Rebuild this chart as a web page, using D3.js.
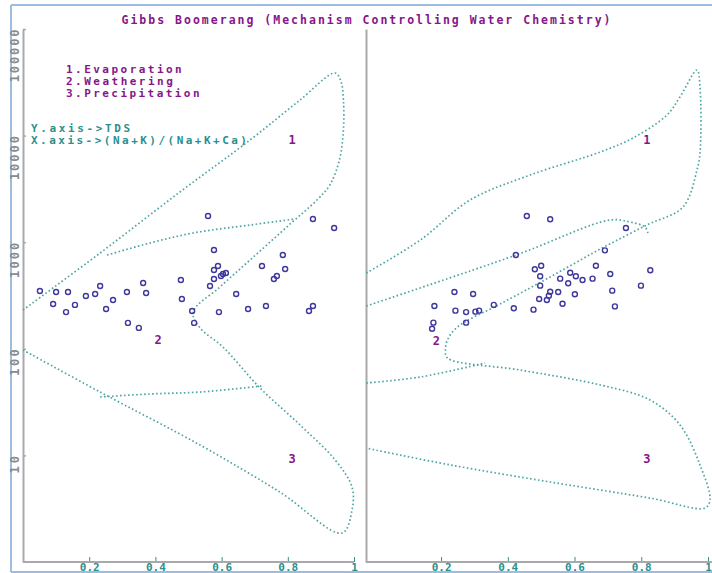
<!DOCTYPE html>
<html><head><meta charset="utf-8">
<script src="https://cdn.jsdelivr.net/npm/d3@7"></script>
<style>body{margin:0;background:#fff}</style>
</head><body>
<svg id="c" width="712" height="573"></svg>
<script>
// ---------- data ----------
const titleText = "Gibbs Boomerang (Mechanism Controlling Water Chemistry)";
const legendItems = ["1.Evaporation", "2.Weathering", "3.Precipitation"];
const axisNotes = ["Y.axis->TDS", "X.axis->(Na+K)/(Na+K+Ca)"];
const yTickValues = [10, 100, 1000, 10000, 100000];
const xTickValues = [0.2, 0.4, 0.6, 0.8, 1];

// zone labels [x, TDS, text]
const zonesLeft = [[0.813, 9095, "1"], [0.408, 121, "2"], [0.813, 9.25, "3"]];
const zonesRight = [[0.817, 9095, "1"], [0.186, 118, "2"], [0.817, 9.25, "3"]];

// boomerang outlines [x, TDS]
const leftOuter = [[0.0,231],[0.233,792],[0.474,2958],[0.686,9095],[0.837,21580],[0.943,38650],[0.961,31840],
  [0.968,21580],[0.968,11290],[0.956,5902],[0.927,3443],[0.888,2488],[0.807,1482],[0.686,681],[0.595,380],
  [0.514,221],[0.535,157],[0.604,104],[0.716,42.9],[0.837,19.3],[0.943,9.06],[0.994,5.05],[0.994,3.07],
  [0.964,1.87],[0.776,4.53],[0.535,12.5],[0.233,39.3],[0.0,97.4]];
const leftWeatherLine = [[0.254,758],[0.384,983],[0.514,1220],[0.686,1450],[0.822,1651]];
const leftPrecipLine = [[0.233,35.3],[0.384,37.7],[0.535,39.3],[0.722,44.8]];

const rightOuter = [[-0.024,514],[0.138,1049],[0.287,2488],[0.467,4268],[0.677,7017],[0.775,9490],[0.877,15600],
  [0.916,23020],[0.967,41240],[0.976,28570],[0.976,6870],[0.967,4757],[0.925,2138],[0.817,1450],[0.677,863],
  [0.527,472],[0.377,263],[0.249,160],[0.219,121],[0.213,97.4],[0.219,82],[0.437,63.2],[0.677,45.8],
  [0.826,33.1],[0.916,19.3],[0.976,8.13],[1.006,3.82],[0.991,3.21],[0.826,3.98],[0.527,5.63],[0.228,8.13],[-0.024,11.7]];
const rightWeatherLine = [[-0.024,252],[0.425,758],[0.707,1615],[0.766,1547],[0.811,1389],[0.820,1220]];
const rightPrecipLine = [[-0.024,47.8],[0.138,54.4],[0.332,73.6]];

// samples [x, TDS]
const leftSamples = [[0.051,348],[0.100,341],[0.136,341],[0.091,263],[0.130,221],[0.157,258],[0.190,313],[0.218,327],
  [0.233,388],[0.251,236],[0.272,287],[0.314,341],[0.363,414],[0.372,334],[0.317,175],[0.350,157],[0.477,442],
  [0.480,293],[0.511,226],[0.517,175],[0.559,1762],[0.577,845],[0.589,598],[0.577,549],[0.604,503],[0.613,514],
  [0.598,482],[0.577,451],[0.565,388],[0.592,221],[0.644,327],[0.680,236],[0.722,598],[0.734,252],[0.758,451],
  [0.767,482],[0.785,758],[0.792,561],[0.876,1651],[0.940,1359],[0.864,226],[0.876,252]];
const rightSamples = [[0.457,1762],[0.527,1641],[0.754,1359],[0.691,839],[0.424,758],[0.664,602],[0.500,602],
  [0.481,557],[0.497,479],[0.587,517],[0.604,479],[0.624,442],[0.654,455],[0.557,455],[0.581,412],[0.707,503],
  [0.827,545],[0.799,391],[0.713,351],[0.721,250],[0.497,391],[0.527,343],[0.551,341],[0.523,315],[0.517,287],
  [0.494,293],[0.601,325],[0.564,265],[0.477,233],[0.418,240],[0.358,258],[0.314,228],[0.303,223],[0.275,221],
  [0.243,228],[0.296,327],[0.240,341],[0.180,252],[0.275,176],[0.177,176],[0.173,154]];

// ---------- drawing ----------
const svg = d3.select("#c");
const purple = "#86168a", teal = "#2a9090", lineCol = "#4ea5a5", dotCol = "#3f389c", axisCol = "#a9a9a9";
const mono = "'DejaVu Sans Mono', 'Liberation Mono', monospace";

const y = d3.scaleLog().domain([1, 100000]).range([562, 29]);
const xL = d3.scaleLinear().domain([0, 1]).range([23, 354]);
const xR = d3.scaleLinear().domain([-0.025, 1]).range([366, 708]);

// frame
const frame = svg.append("g").attr("stroke", "#9dbde0").attr("stroke-width", 2);
frame.append("line").attr("x1", 11).attr("x2", 11).attr("y1", 5).attr("y2", 572);
frame.append("line").attr("x1", 11).attr("x2", 712).attr("y1", 5).attr("y2", 5);
frame.append("line").attr("x1", 11).attr("x2", 712).attr("y1", 572).attr("y2", 572);

// title
svg.append("text").attr("x", 366).attr("y", 24).attr("text-anchor", "middle")
  .attr("font-family", mono).attr("font-weight", "bold").attr("font-size", 11.5)
  .attr("textLength", 489).attr("lengthAdjust", "spacing")
  .attr("fill", purple).text(titleText);

function panel(x, outer, weather, precip, samples, zones, showYLabels, axisEnd) {
  const g = svg.append("g");
  // y axis
  const ya = d3.axisLeft(y).tickValues(showYLabels ? yTickValues : []).tickSize(-3).tickSizeOuter(0)
    .tickFormat(d3.format("d"));
  const yg = g.append("g").attr("transform", `translate(${x.range()[0]},0)`).call(ya);
  yg.select(".domain").attr("stroke", axisCol).attr("stroke-width", 2);
  yg.selectAll(".tick line").attr("stroke", axisCol).attr("stroke-width", 1.5);
  yg.selectAll(".tick text").attr("transform", "rotate(-90)").attr("x", 0).attr("y", -4).attr("dy", 0)
    .attr("text-anchor", "end").attr("font-family", mono).attr("font-weight", "bold")
    .attr("font-size", 12).attr("fill", "#8a8a8a")
    .attr("textLength", d => String(d).length * 8.8).attr("lengthAdjust", "spacing");
  // x axis
  const xa = d3.axisBottom(x).tickValues(xTickValues).tickSize(-5).tickSizeOuter(0)
    .tickFormat(d => d === 1 ? "1" : d3.format(".1f")(d));
  const xg = g.append("g").attr("transform", "translate(0,562)").call(xa);
  xg.select(".domain").remove();
  xg.append("line").attr("x1", x.range()[0]).attr("x2", x(axisEnd)).attr("stroke", axisCol).attr("stroke-width", 2);
  xg.selectAll(".tick line").attr("stroke", teal).attr("stroke-width", 1);
  xg.selectAll(".tick text").attr("y", 9).attr("dy", 0).attr("font-family", mono).attr("font-weight", "bold")
    .attr("font-size", 11).attr("fill", teal);

  // boomerang
  const line = d3.line().x(d => x(d[0])).y(d => y(d[1])).curve(d3.curveCatmullRom.alpha(0.5));
  [outer, weather, precip].forEach(arr => {
    g.append("path").attr("d", line(arr)).attr("fill", "none").attr("stroke", lineCol)
      .attr("stroke-width", 1.7).attr("stroke-dasharray", "1.6 2.4");
  });
  // zones
  g.selectAll(".zone").data(zones).join("text").attr("class", "zone")
    .attr("x", d => x(d[0])).attr("y", d => y(d[1])).attr("dy", "0.35em").attr("text-anchor", "middle")
    .attr("font-family", mono).attr("font-weight", "bold").attr("font-size", 12).attr("fill", purple)
    .text(d => d[2]);
  // samples
  g.selectAll(".pt").data(samples).join("circle").attr("class", "pt")
    .attr("cx", d => x(d[0])).attr("cy", d => y(d[1])).attr("r", 2.5)
    .attr("fill", "none").attr("stroke", dotCol).attr("stroke-width", 1.4);
}

panel(xL, leftOuter, leftWeatherLine, leftPrecipLine, leftSamples, zonesLeft, true, 1);
panel(xR, rightOuter, rightWeatherLine, rightPrecipLine, rightSamples, zonesRight, false, 1.012);

// legend
svg.selectAll(".leg").data(legendItems).join("text").attr("class", "leg")
  .attr("x", 66).attr("y", (d, i) => 73 + i * 12)
  .attr("font-family", mono).attr("font-weight", "bold").attr("font-size", 11).attr("fill", purple)
  .attr("textLength", d => d.length * 8.9).attr("lengthAdjust", "spacing").text(d => d);
svg.selectAll(".note").data(axisNotes).join("text").attr("class", "note")
  .attr("x", 31).attr("y", (d, i) => 132 + i * 12)
  .attr("font-family", mono).attr("font-weight", "bold").attr("font-size", 11).attr("fill", teal)
  .attr("textLength", d => d.length * 9.0).attr("lengthAdjust", "spacing").text(d => d);
</script>
</body></html>
